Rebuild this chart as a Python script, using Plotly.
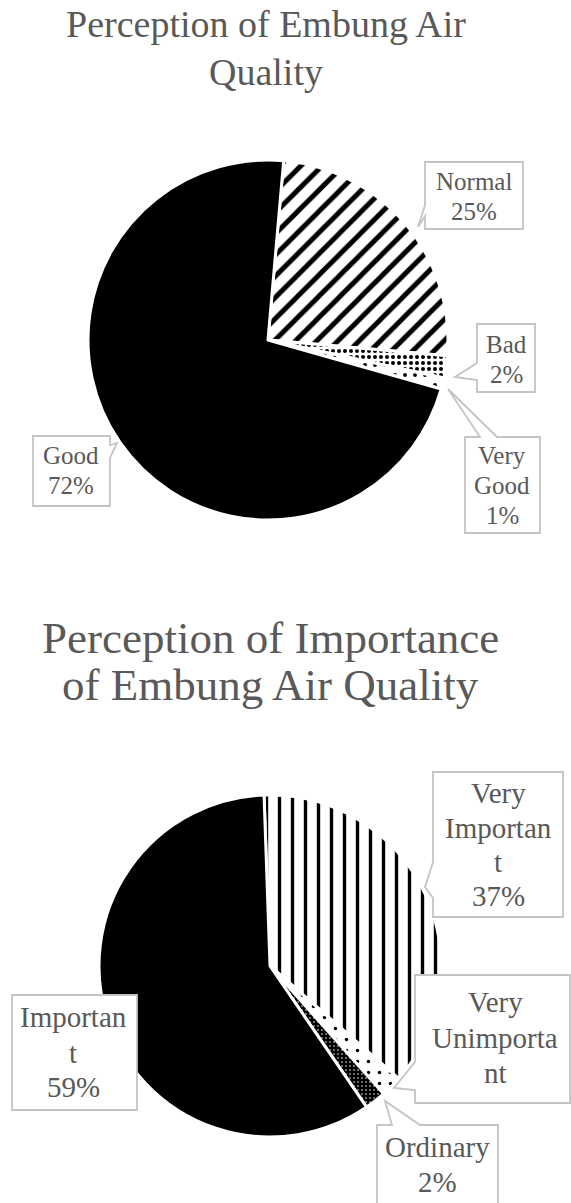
import plotly.graph_objects as go

W, H = 571, 1203

# ---------------- data ----------------
quality_labels = ["Normal", "Bad", "Very Good", "Good"]
quality_values = [25, 2, 1, 72]
quality_texts = [["Normal", "25%"], ["Bad", "2%"], ["Very", "Good", "1%"], ["Good", "72%"]]

importance_labels = ["Very Important", "Very Unimportant", "Ordinary", "Important"]
importance_values = [37, 2, 2, 59]
importance_texts = [["Very", "Importan", "t", "37%"], ["Very", "Unimporta", "nt"],
                    ["Ordinary", "2%"], ["Importan", "t", "59%"]]

title_top = ["Perception of Embung Air", "Quality"]
title_bottom = ["Perception of Importance", "of Embung Air Quality"]

# ---------------- styling ----------------
FONT = "'Liberation Serif', 'Times New Roman', Tinos, 'DejaVu Serif', serif"
TXT = "#595959"
BOX = "#c4c4c4"


def px(x):
    return x / W


def py(y):
    return 1 - y / H


fig = go.Figure()

# top pie
fig.add_trace(go.Pie(
    labels=quality_labels, values=quality_values, sort=False, direction="clockwise",
    rotation=5, textinfo="none", hoverinfo="label+percent",
    domain=dict(x=[px(88), px(448)], y=[py(520), py(160)]),
    marker=dict(
        colors=["black", "black", "black", "black"],
        line=dict(color="white", width=3),
        pattern=dict(shape=["/", ".", ".", ""], size=[15, 6, 10, 8],
                     solidity=[0.33, 0.35, 0.12, 0.3],
                     fgcolor=["black", "black", "black", "black"],
                     bgcolor=["white", "white", "white", "black"],
                     fillmode="replace"),
    ),
))

# bottom pie
fig.add_trace(go.Pie(
    labels=importance_labels, values=importance_values, sort=False, direction="clockwise",
    rotation=-2, textinfo="none", hoverinfo="label+percent",
    domain=dict(x=[px(99), px(441)], y=[py(1137), py(795)]),
    marker=dict(
        colors=["black", "black", "black", "black"],
        line=dict(color="white", width=3),
        pattern=dict(shape=["|", ".", ".", ""], size=[13, 11, 4, 8],
                     solidity=[0.26, 0.08, 0.12, 0.3],
                     fgcolor=["black", "black", "white", "black"],
                     bgcolor=["white", "white", "black", "black"],
                     fillmode="replace"),
    ),
))


def callout(L, T, R, B, side=None, b1=None, b2=None, tip=None):
    if side == "left":
        pts = [(L, T), (R, T), (R, B), (L, B), (L, b2), tip, (L, b1)]
    elif side == "right":
        pts = [(L, T), (R, T), (R, b1), tip, (R, b2), (R, B), (L, B)]
    elif side == "top":
        pts = [(L, T), (b1, T), tip, (b2, T), (R, T), (R, B), (L, B)]
    elif side == "bottom":
        pts = [(L, T), (R, T), (R, B), (b2, B), tip, (b1, B), (L, B)]
    else:
        pts = [(L, T), (R, T), (R, B), (L, B)]
    d = "M " + " L ".join(f"{px(x):.5f},{py(y):.5f}" for x, y in pts) + " Z"
    fig.add_shape(type="path", path=d, xref="paper", yref="paper",
                  fillcolor="white", line=dict(color=BOX, width=1.8), layer="above")


def text_lines(lines, cx, mids, size):
    for t, m in zip(lines, mids):
        fig.add_annotation(text=t, x=px(cx), y=py(m), xref="paper", yref="paper",
                           xanchor="center", yanchor="middle", showarrow=False,
                           font=dict(family=FONT, size=size, color=TXT))


# top pie callouts
callout(425, 162, 523, 229, "left", 205, 216, (418, 227))
text_lines(quality_texts[0], 474, [181, 211], 25)
callout(477, 324, 535, 392, "left", 363, 380, (455, 377))
text_lines(quality_texts[1], 506, [344, 374], 25)
callout(465, 437, 540, 533, "top", 480, 497, (448, 389))
text_lines(quality_texts[2], 502, [456, 486, 515], 25)
callout(33, 436, 110, 506, "right", 445, 458, (117, 443))
text_lines(quality_texts[3], 71, [456, 486], 25)

# bottom pie callouts
callout(433, 772, 563, 917, "left", 862, 898, (425, 887))
text_lines(importance_texts[0], 498, [793, 828, 862, 896], 29)
callout(415, 975, 570, 1103, "left", 1062, 1090, (394, 1088))
text_lines(importance_texts[1], 495, [1002, 1038, 1073], 29)
callout(377, 1125, 498, 1215, "top", 392, 420, (385, 1101))
text_lines(importance_texts[2], 437, [1147, 1182], 29)
callout(12, 995, 137, 1110)
text_lines(importance_texts[3], 73, [1017, 1053, 1087], 29)

# titles
text_lines(title_top, 266, [24, 72], 38)
text_lines(title_bottom, 270, [638, 685], 45)

fig.update_layout(width=W, height=H, margin=dict(l=0, r=0, t=0, b=0),
                  paper_bgcolor="white", plot_bgcolor="white", showlegend=False,
                  font=dict(family=FONT))

fig.write_html("out.html")
